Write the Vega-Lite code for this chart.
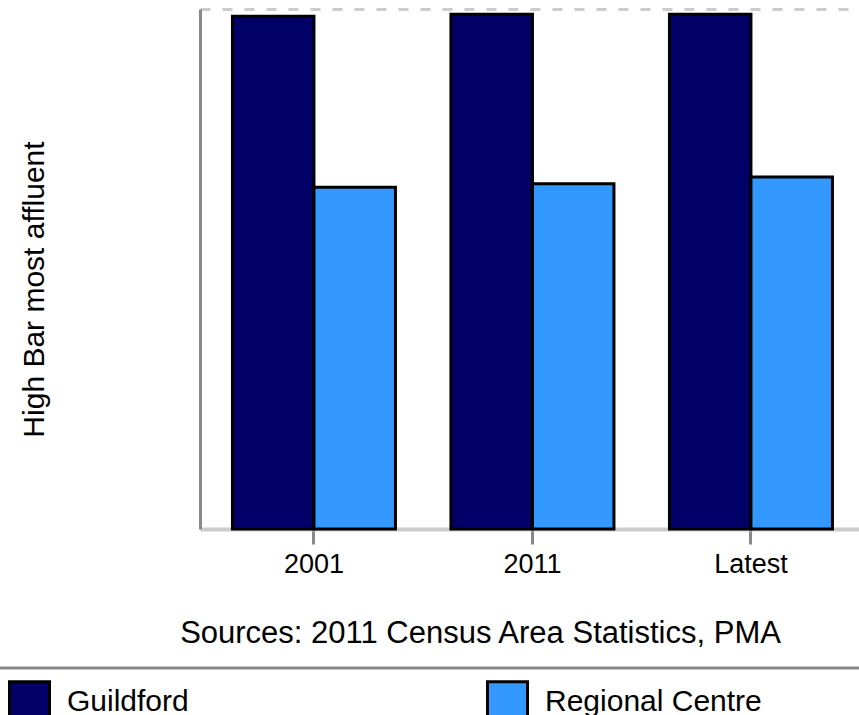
{
  "$schema": "https://vega.github.io/schema/vega-lite/v6.json",
  "autosize": {"type": "none"},
  "padding": {"left": 200, "top": 9, "right": 0, "bottom": 186},
  "width": 659,
  "height": 520,
  "background": "white",
  "data": {
    "values": [
      {"period": "2001", "area": "Guildford", "value": 98.6},
      {"period": "2001", "area": "Regional Centre", "value": 65.7},
      {"period": "2011", "area": "Guildford", "value": 99.0},
      {"period": "2011", "area": "Regional Centre", "value": 66.4},
      {"period": "Latest", "area": "Guildford", "value": 99.0},
      {"period": "Latest", "area": "Regional Centre", "value": 67.7}
    ]
  },
  "mark": {"type": "bar", "stroke": "black", "strokeWidth": 3},
  "encoding": {
    "x": {
      "field": "period",
      "type": "nominal",
      "sort": ["2001", "2011", "Latest"],
      "scale": {"paddingInner": 0.254, "paddingOuter": 0.135, "align": 0.55},
      "axis": {
        "title": "Sources: 2011 Census Area Statistics, PMA",
        "titleX": 280,
        "titleY": 113,
        "titleAlign": "center",
        "titleBaseline": "alphabetic",
        "titleFont": "Liberation Sans",
        "titleFontSize": 31,
        "titleFontWeight": "normal",
        "titleColor": "black",
        "labelAngle": 0,
        "labelFont": "Liberation Sans",
        "labelFontSize": 27,
        "labelColor": "black",
        "labelPadding": 7,
        "domainColor": "#cccccc",
        "domainWidth": 4,
        "tickColor": "#888888",
        "tickWidth": 3,
        "tickSize": 15
      }
    },
    "xOffset": {
      "field": "area",
      "type": "nominal",
      "scale": {"paddingInner": 0, "paddingOuter": 0}
    },
    "y": {
      "field": "value",
      "type": "quantitative",
      "scale": {"domain": [0, 100], "nice": false},
      "axis": {
        "title": "High Bar most affluent",
        "titleX": -157,
        "titleY": 280,
        "titleAngle": 270,
        "titleAlign": "center",
        "titleBaseline": "alphabetic",
        "titleFont": "Liberation Sans",
        "titleFontSize": 30,
        "titleFontWeight": "normal",
        "titleColor": "black",
        "labels": false,
        "ticks": false,
        "domainColor": "#888888",
        "domainWidth": 3,
        "grid": true,
        "values": [100],
        "gridColor": "#cccccc",
        "gridDash": [10, 12],
        "gridWidth": 3
      }
    },
    "color": {
      "field": "area",
      "type": "nominal",
      "scale": {"domain": ["Guildford", "Regional Centre"], "range": ["#000066", "#3399ff"]},
      "legend": {
        "orient": "none",
        "legendX": -204,
        "legendY": 659,
        "direction": "horizontal",
        "columns": 2,
        "columnPadding": 292,
        "padding": 12,
        "strokeColor": "#888888",
        "title": " ",
        "titleOrient": "right",
        "titlePadding": 120,
        "symbolType": "square",
        "symbolSize": 1600,
        "symbolStrokeColor": "black",
        "symbolStrokeWidth": 3,
        "symbolOpacity": 1,
        "labelFont": "Liberation Sans",
        "labelFontSize": 30,
        "labelColor": "black",
        "labelOffset": 16,
        "labelLimit": 400,
        "encode": {"legend": {"update": {"strokeWidth": {"value": 3}}}}
      }
    }
  },
  "config": {"view": {"stroke": null}}
}
